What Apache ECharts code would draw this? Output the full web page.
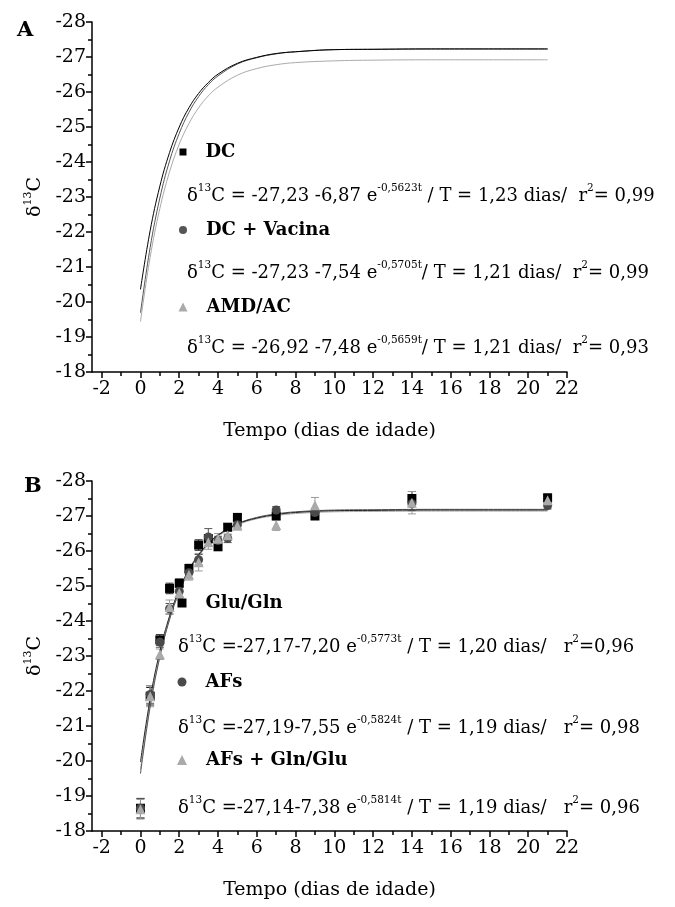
<!DOCTYPE html>
<html><head><meta charset="utf-8">
<script src="https://cdn.jsdelivr.net/npm/echarts@6/dist/echarts.min.js"></script>
<style>html,body{margin:0;padding:0;background:#fff}#c{width:675px;height:907px}</style>
</head><body><div id="c"></div>
<script>
// ---- tick labels ----
const xTicks = [-2,0,2,4,6,8,10,12,14,16,18,20,22];
const xMinorTicks = [-1,1,3,5,7,9,11,13,15,17,19,21];

// ---- Panel A: fitted curves ----
const aTimes = [0,0.5,1,1.5,2,2.5,3,3.5,4,5,6,7,8,10,12,15,21];
const aDC     = [-20.36,-22.04,-23.31,-24.27,-25.00,-25.55,-25.96,-26.27,-26.51,-26.82,-26.99,-27.10,-27.15,-27.21,-27.22,-27.23,-27.23];
const aDCVac  = [-19.69,-21.56,-22.97,-24.03,-24.82,-25.42,-25.87,-26.21,-26.46,-26.80,-26.98,-27.09,-27.15,-27.21,-27.22,-27.23,-27.23];
const aAMD    = [-19.44,-21.28,-22.67,-23.72,-24.51,-25.10,-25.55,-25.89,-26.14,-26.48,-26.67,-26.78,-26.84,-26.89,-26.91,-26.92,-26.92];

// ---- Panel B: measured points ----
const bTimes   = [0,0.5,1,1.5,2,2.5,3,3.5,4,4.5,5,7,9,14,21];
const bGlu     = [-18.65,-21.85,-23.46,-24.93,-25.08,-25.50,-26.17,-26.35,-26.12,-26.68,-26.96,-27.00,-27.00,-27.50,-27.52];
const bGluErr  = [0.28,0.25,0.15,0.15,0.12,0.12,0.15,0.12,0.10,0.10,0.08,0.10,0.10,0.20,0.10];
const bAFs     = [-18.65,-21.90,-23.40,-24.35,-24.85,-25.38,-25.75,-26.40,-26.30,-26.36,-26.75,-27.17,-27.10,-27.35,-27.30];
const bAFsErr  = [0.28,0.25,0.15,0.15,0.15,0.15,0.15,0.24,0.12,0.12,0.10,0.10,0.10,0.20,0.10];
const bAFsG    = [-18.62,-21.85,-23.05,-24.40,-24.80,-25.32,-25.68,-26.25,-26.35,-26.45,-26.72,-26.74,-27.31,-27.38,-27.45];
const bAFsGErr = [0.28,0.30,0.15,0.20,0.15,0.15,0.25,0.20,0.15,0.12,0.10,0.15,0.22,0.32,0.12];

// ---- Panel B: fitted curves ----
const bFitTimes = [0,0.5,1,1.5,2,2.5,3,3.5,4,5,6,7,8,10,12,15,21];
const bFitGlu   = [-19.97,-21.78,-23.13,-24.14,-24.90,-25.47,-25.90,-26.22,-26.45,-26.77,-26.94,-27.04,-27.10,-27.15,-27.16,-27.17,-27.17];
const bFitAFs   = [-19.64,-21.55,-22.97,-24.04,-24.83,-25.43,-25.87,-26.21,-26.46,-26.78,-26.96,-27.06,-27.12,-27.17,-27.18,-27.19,-27.19];
const bFitAFsG  = [-19.76,-21.62,-23.01,-24.05,-24.83,-25.42,-25.85,-26.18,-26.42,-26.74,-26.92,-27.01,-27.07,-27.12,-27.13,-27.14,-27.14];

const FONT = 'DejaVu Serif';
const zip = (xs, ys) => xs.map((x, i) => [x, ys[i]]);

function xAxesFor(gi) {
  return [
    { type:'value', gridIndex:gi, min:-2.5, max:22, position:'bottom',
      axisLine:{show:true, onZero:false, lineStyle:{color:'#000', width:1.5}},
      axisTick:{show:true, customValues:xTicks, length:6, lineStyle:{color:'#000', width:1.5}},
      axisLabel:{show:true, customValues:xTicks, color:'#000', fontFamily:FONT, fontSize:19, margin:8},
      splitLine:{show:false},
      name:'Tempo (dias de idade)', nameLocation:'middle', nameGap:50,
      nameTextStyle:{color:'#000', fontFamily:FONT, fontSize:19} },
    { type:'value', gridIndex:gi, min:-2.5, max:22, position:'bottom',
      axisLine:{show:false, onZero:false},
      axisTick:{show:true, customValues:xMinorTicks, length:4, lineStyle:{color:'#000', width:1.5}},
      axisLabel:{show:false}, splitLine:{show:false} }
  ];
}
function yAxisFor(gi) {
  return { type:'value', gridIndex:gi, min:-28, max:-18, interval:1, inverse:true,
    axisLine:{show:true, onZero:false, lineStyle:{color:'#000', width:1.5}},
    axisTick:{show:true, length:6, lineStyle:{color:'#000', width:1.5}},
    minorTick:{show:true, splitNumber:2, length:4, lineStyle:{color:'#000', width:1.5}},
    axisLabel:{color:'#000', fontFamily:FONT, fontSize:19, margin:6},
    splitLine:{show:false}, minorSplitLine:{show:false},
    name:'{m|δ}{s|13}{m|C}', nameLocation:'middle', nameGap:34, nameRotate:90,
    nameTextStyle:{rich:{
      m:{fontFamily:FONT, fontSize:19, color:'#000', lineHeight:24},
      s:{fontFamily:FONT, fontSize:11, color:'#000', lineHeight:16, verticalAlign:'top'}}} };
}

const eqRich = {
  m:{fontFamily:FONT, fontSize:18, fontWeight:'normal', color:'#000', lineHeight:26},
  s:{fontFamily:FONT, fontSize:10.5, fontWeight:'normal', color:'#000', lineHeight:15, verticalAlign:'top'}
};
function eq(text, left, cy) {
  return { text, left, top: cy - 13, padding:0, textStyle:{fontWeight:'normal', rich:eqRich} };
}
function leg(name, icon, cx, cy, size) {
  return { data:[{name, icon}], left: cx - size/2, top: cy - 11, padding:0,
    itemWidth:size, itemHeight:size, selectedMode:false,
    textStyle:{fontFamily:FONT, fontSize:18, fontWeight:'bold', color:'#000', lineHeight:22, padding:[0,0,0,14]} };
}
function lineS(name, xs, ys, color, xi, yi) {
  return { type:'line', name, xAxisIndex:xi, yAxisIndex:yi, data:zip(xs, ys),
    showSymbol:false, smooth:0.4, color,
    lineStyle:{color, width:1}, silent:true, z:3 };
}
function scatS(name, xs, ys, symbol, size, color) {
  return { type:'scatter', name, xAxisIndex:2, yAxisIndex:1, data:zip(xs, ys),
    symbol, symbolSize:size, itemStyle:{color, opacity:1}, z:4 };
}
function errS(xs, ys, es, color) {
  return { type:'custom', xAxisIndex:2, yAxisIndex:1, silent:true, z:2,
    data: xs.map((t, i) => [t, ys[i], es[i]]),
    encode:{x:0, y:1},
    renderItem(params, api) {
      const t = api.value(0), v = api.value(1), e = api.value(2);
      const p1 = api.coord([t, v - e]), p2 = api.coord([t, v + e]);
      const w = 4, st = {stroke:color, lineWidth:1};
      return { type:'group', children:[
        {type:'line', shape:{x1:p1[0], y1:p1[1], x2:p2[0], y2:p2[1]}, style:st},
        {type:'line', shape:{x1:p1[0]-w, y1:p1[1], x2:p1[0]+w, y2:p1[1]}, style:st},
        {type:'line', shape:{x1:p2[0]-w, y1:p2[1], x2:p2[0]+w, y2:p2[1]}, style:st}
      ]};
    } };
}

const C_BLACK = '#000', C_DARK = '#555', C_LIGHT = '#aaa';

const option = {
  backgroundColor:'#fff',
  animation:false,
  grid:[
    {left:92, top:22, width:475, height:350},
    {left:92, top:481, width:475, height:350}
  ],
  xAxis:[...xAxesFor(0), ...xAxesFor(1)],
  yAxis:[yAxisFor(0), yAxisFor(1)],
  title:[
    {text:'A', left:17, top:20, padding:0, textStyle:{fontFamily:FONT, fontSize:21, fontWeight:'bold', color:'#000'}},
    {text:'B', left:24, top:476, padding:0, textStyle:{fontFamily:FONT, fontSize:21, fontWeight:'bold', color:'#000'}},
    eq('{m|δ}{s|13}{m|C = -27,23 -6,87 e}{s|-0,5623t}{m| / T = 1,23 dias/  r}{s|2}{m|= 0,99}', 187, 196),
    eq('{m|δ}{s|13}{m|C = -27,23 -7,54 e}{s|-0,5705t}{m|/ T = 1,21 dias/  r}{s|2}{m|= 0,99}', 187, 273),
    eq('{m|δ}{s|13}{m|C = -26,92 -7,48 e}{s|-0,5659t}{m|/ T = 1,21 dias/  r}{s|2}{m|= 0,93}', 187, 348),
    eq('{m|δ}{s|13}{m|C =-27,17-7,20 e}{s|-0,5773t}{m| / T = 1,20 dias/   r}{s|2}{m|=0,96}', 178, 647),
    eq('{m|δ}{s|13}{m|C =-27,19-7,55 e}{s|-0,5824t}{m| / T = 1,19 dias/   r}{s|2}{m|= 0,98}', 178, 728),
    eq('{m|δ}{s|13}{m|C =-27,14-7,38 e}{s|-0,5814t}{m| / T = 1,19 dias/   r}{s|2}{m|= 0,96}', 178, 808)
  ],
  legend:[
    leg('DC', 'rect', 183, 152, 7),
    leg('DC + Vacina', 'circle', 183, 230, 8),
    leg('AMD/AC', 'triangle', 183, 307, 9),
    leg('Glu/Gln', 'rect', 182, 603, 9),
    leg('AFs', 'circle', 182, 682, 9),
    leg('AFs + Gln/Glu', 'triangle', 182, 760, 10)
  ],
  series:[
    lineS('AMD/AC', aTimes, aAMD, C_LIGHT, 0, 0),
    lineS('DC + Vacina', aTimes, aDCVac, C_DARK, 0, 0),
    lineS('DC', aTimes, aDC, C_BLACK, 0, 0),
    errS(bTimes, bGlu, bGluErr, '#222'),
    errS(bTimes, bAFs, bAFsErr, '#555'),
    errS(bTimes, bAFsG, bAFsGErr, '#999'),
    scatS('Glu/Gln', bTimes, bGlu, 'rect', 9, C_BLACK),
    scatS('AFs', bTimes, bAFs, 'circle', 9, '#4a4a4a'),
    scatS('AFs + Gln/Glu', bTimes, bAFsG, 'triangle', 10, C_LIGHT),
    lineS('fit AFs + Gln/Glu', bFitTimes, bFitAFsG, C_LIGHT, 2, 1),
    lineS('fit AFs', bFitTimes, bFitAFs, C_DARK, 2, 1),
    lineS('fit Glu/Gln', bFitTimes, bFitGlu, '#222', 2, 1)
  ]
};
const chart = echarts.init(document.getElementById('c'), null, {renderer:'canvas'});
chart.setOption(option);
</script></body></html>
